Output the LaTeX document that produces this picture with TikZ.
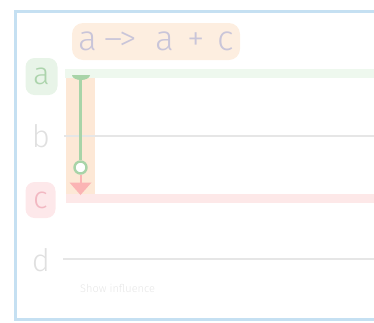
\documentclass[tikz,border=0pt]{standalone}
\usepackage{fontspec}
\setmainfont{Fira Sans}[UprightFont={* Light}]
\usetikzlibrary{arrows.meta}
\definecolor{framecol}{HTML}{C5E0F2}
\definecolor{titlefill}{HTML}{FDEEE0}
\definecolor{titletext}{HTML}{C9C5D9}
\definecolor{afill}{HTML}{E8F4E8}
\definecolor{atext}{HTML}{ACD4AC}
\definecolor{aline}{HTML}{EEF8EE}
\definecolor{colfill}{HTML}{FDE8D6}
\definecolor{stem}{HTML}{A8D4A8}
\definecolor{redarrow}{HTML}{FBB4B4}
\definecolor{cline}{HTML}{FDE8E8}
\definecolor{cfill}{HTML}{FDE8EA}
\definecolor{ctext}{HTML}{F2B8C2}
\definecolor{greyline}{HTML}{E6E6E6}
\definecolor{greytext}{HTML}{E0E0E0}
\definecolor{captext}{HTML}{E6E6E6}
\tikzset{
  lbl/.style={font=\fontsize{31}{31}\selectfont, inner sep=0pt, minimum width=32pt, minimum height=37pt, rounded corners=9pt, anchor=center},
  greyrow/.style={line width=2.2pt, greyline},
}
\begin{document}
\begin{tikzpicture}[x=1pt,y=-1pt]
\useasboundingbox (0,0) rectangle (374,322);
% frame
\draw[framecol, line width=3pt] (400,11.5) -- (15.5,11.5) -- (15.5,319.5) -- (400,319.5);
% title
\node[fill=titlefill, rounded corners=11pt, minimum height=37pt, minimum width=168pt, inner sep=0pt,
      text=titletext, font=\fontsize{35}{35}\selectfont, anchor=center] (title) at (156,41.5)
      {a\hspace{7pt}–\kern-3pt>\hspace{19pt}a\hspace{3pt} + \hspace{3pt}c};
% orange column
\fill[colfill] (66,71) rectangle (95,201);
% row lines
\coordinate (aL) at (65,73.5); \coordinate (aR) at (374,73.5);
\coordinate (bL) at (64,136); \coordinate (bR) at (374,136);
\coordinate (cL) at (66,198); \coordinate (cR) at (374,198);
\coordinate (dL) at (63,259); \coordinate (dR) at (374,259);
\draw[aline, line width=9pt] (aL) -- (aR);
\draw[greyrow] (bL) -- (bR);
\draw[cline, line width=9pt] (cL) -- (cR);
\draw[greyrow] (dL) -- (dR);
% labels
\node[lbl, fill=afill, text=atext] (la) at (41.5,76.5) {a};
\node[lbl, text=greytext] (lb) at (41,136) {b};
\node[lbl, fill=cfill, text=ctext, minimum width=30pt, minimum height=36pt] (lc) at (40.5,200) {c};
\node[lbl, text=greytext] (ld) at (41,260) {d};
% influence glyph
\coordinate (top) at (80.5,78);
\node[circle, draw=stem, fill=white, line width=2.4pt, minimum size=12pt, inner sep=0pt] (circ) at (80.5,167.5) {};
\coordinate (tip) at (80.5,195);
\fill[stem] (72,75) -- (90,75) arc[start angle=0, end angle=-180, x radius=9pt, y radius=5pt] -- cycle;
\draw[stem, line width=3pt] (top) -- (circ.north);
\draw[redarrow, line width=2pt] (circ.south) -- (80.5,184);
\fill[redarrow] (69.5,182.5) -- (91.5,182.5) -- (tip) -- cycle;
% caption
\node[anchor=west, text=captext, font=\fontsize{11}{11}\selectfont, inner sep=0pt] (cap) at (80,288) {Show influence};
\end{tikzpicture}
\end{document}
